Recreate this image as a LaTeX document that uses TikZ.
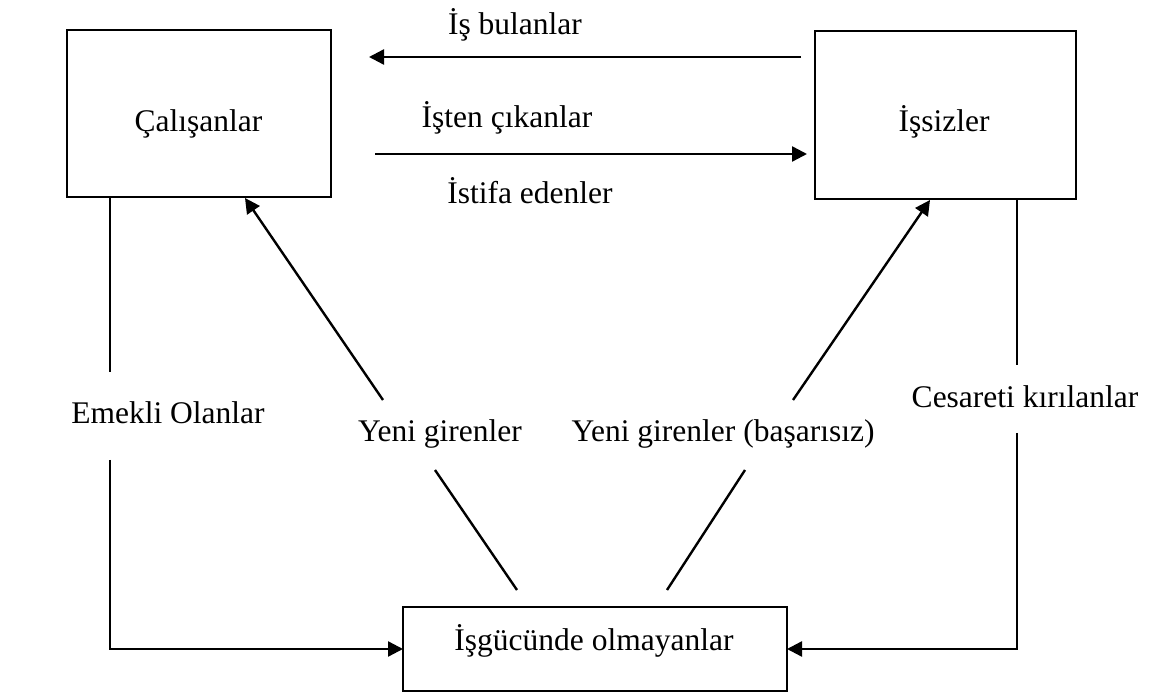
\documentclass[tikz,border=0pt]{standalone}
\usepackage{fontspec}
\setmainfont{Liberation Serif}
\usetikzlibrary{arrows.meta}
\begin{document}
\begin{tikzpicture}[x=1pt,y=-1pt,
  box/.style={draw, line width=1.8pt, inner sep=0pt, outer sep=0pt},
  lbl/.style={anchor=base, inner sep=0pt, font=\fontsize{31.5}{36}\selectfont},
  flow/.style={line width=2.4pt, -{Triangle[length=15pt,width=15pt]}},
  seg/.style={line width=2.4pt}]
\useasboundingbox[fill=white] (0,0) rectangle (1152,692);
% boxes
\node[box, minimum width=264pt, minimum height=167pt] (cal) at (199,113.5) {};
\node[box, minimum width=261pt, minimum height=168pt] (isz) at (945.5,115) {};
\node[box, minimum width=384pt, minimum height=84pt] (olm) at (595,649) {};
\node[lbl] (calt) at (198.5,132) {Çalışanlar};
\node[lbl] (iszt) at (944,132) {İşsizler};
\node[lbl] (olmt) at (594,650) {İşgücünde olmayanlar};
% labels
\node[lbl] (ib) at (515,35) {İş bulanlar};
\node[lbl] (ic) at (507,128) {İşten çıkanlar};
\node[lbl] (ie) at (530,204) {İstifa edenler};
\node[lbl] (em) at (168,424) {Emekli Olanlar};
\node[lbl] (yg) at (440,442) {Yeni girenler};
\node[lbl] (ygb) at (723,442) {Yeni girenler (başarısız)};
\node[lbl] (ck) at (1025,408) {Cesareti kırılanlar};
% coordinates
\coordinate (ibS) at (801,57);
\coordinate (ibE) at (369,57);
\coordinate (icS) at (375,154);
\coordinate (icE) at (807,154);
\coordinate (eT) at (135,197);
\coordinate (eA) at (110,197);
\coordinate (eB) at (110,372);
\coordinate (eC) at (110,460);
\coordinate (cT) at (1017,199);
\coordinate (cB) at (1017,365);
\coordinate (cC) at (1017,433);
\coordinate (y1a) at (383,400);
\coordinate (y1b) at (245,198);
\coordinate (y1c) at (435,470);
\coordinate (y1d) at (517,590);
\coordinate (y2a) at (793,400);
\coordinate (y2b) at (930,200);
\coordinate (y2c) at (745,470);
\coordinate (y2d) at (667,590);
% connectors
\draw[flow] (ibS) -- (ibE);
\draw[flow] (icS) -- (icE);
\draw[seg] (eT) -- (eA) -- (eB);
\draw[flow] (eC) |- (olm.west);
\draw[seg] (cT) -- (cB);
\draw[flow] (cC) |- (olm.east);
\draw[flow] (y1a) -- (y1b);
\draw[seg] (y1c) -- (y1d);
\draw[flow] (y2a) -- (y2b);
\draw[seg] (y2c) -- (y2d);
\end{tikzpicture}
\end{document}
